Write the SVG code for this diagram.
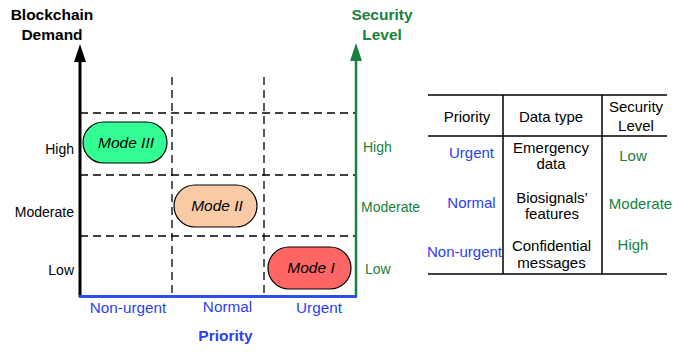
<svg xmlns="http://www.w3.org/2000/svg" width="691" height="352" viewBox="0 0 691 352">
<defs>
<style>
text{font-family:"Liberation Sans",Arial,sans-serif;font-size:15px;}
.blk{fill:#000;}
.blu{fill:#2B3FF2;}
.grn{fill:#17813D;}
.ttl{font-size:15.5px;font-weight:bold;}
.side{font-size:14px;}
.ax{font-size:15.3px;}
.mode{font-size:15.5px;font-style:italic;}
.dash{stroke:#000;stroke-width:1.3;stroke-dasharray:8,5;fill:none;}
.tl{stroke:#000;stroke-width:1.5;}
.mid{text-anchor:middle;}
.end{text-anchor:end;}
</style>
</defs>
<rect width="691" height="352" fill="#fff"/>
<g id="grid">
<line class="dash" x1="172" y1="77" x2="172" y2="296"/>
<line class="dash" x1="264" y1="77" x2="264" y2="296"/>
<line class="dash" x1="80" y1="113" x2="356" y2="113"/>
<line class="dash" x1="80" y1="175" x2="356" y2="175"/>
<line class="dash" x1="80" y1="236" x2="356" y2="236"/>
</g>
<g id="connectors">
<line x1="80" y1="60" x2="80" y2="297" stroke="#000" stroke-width="3"/>
<polygon points="80,44 74,62 86,62" fill="#000"/>
<line x1="356" y1="60" x2="356" y2="297" stroke="#17813D" stroke-width="2.5"/>
<polygon points="356,43 350,61 362,61" fill="#17813D"/>
<line x1="79" y1="296.5" x2="357" y2="296.5" stroke="#2B4FE8" stroke-width="3"/>
</g>
<g id="axis-labels">
<text class="ttl blk mid" x="52" y="20">Blockchain</text>
<text class="ttl blk mid" x="52" y="40">Demand</text>
<text class="ttl grn mid" x="382" y="20">Security</text>
<text class="ttl grn mid" x="382" y="40">Level</text>
<text class="side blk end" x="74" y="154">High</text>
<text class="side blk end" x="74" y="217">Moderate</text>
<text class="side blk end" x="74" y="275">Low</text>
<text class="side grn" x="363" y="152">High</text>
<text class="side grn" x="361" y="212">Moderate</text>
<text class="side grn" x="365" y="274">Low</text>
<text class="ax blu mid" x="128" y="313">Non-urgent</text>
<text class="ax blu mid" x="227.5" y="312">Normal</text>
<text class="ax blu mid" x="319" y="313">Urgent</text>
<text class="ttl blu mid" x="225.5" y="341">Priority</text>
</g>
<g id="mode3">
<rect x="83" y="122" width="84" height="41" rx="20.5" fill="#33FD95" stroke="#000" stroke-width="1.2"/>
<text class="mode blk mid" x="126" y="148">Mode III</text>
</g>
<g id="mode2">
<rect x="174" y="185" width="83" height="42" rx="21" fill="#F8CBA6" stroke="#000" stroke-width="1.2"/>
<text class="mode blk mid" x="217" y="211">Mode II</text>
</g>
<g id="mode1">
<rect x="268" y="247" width="83" height="42" rx="21" fill="#FF6666" stroke="#000" stroke-width="1.2"/>
<text class="mode blk mid" x="311" y="273">Mode I</text>
</g>
<g id="table">
<line class="tl" x1="428" y1="95" x2="667" y2="95"/>
<line class="tl" x1="428" y1="136" x2="667" y2="136"/>
<line class="tl" x1="428" y1="274" x2="667" y2="274"/>
<line class="tl" x1="503" y1="95" x2="503" y2="274"/>
<line class="tl" x1="602" y1="95" x2="602" y2="274"/>
<text class="blk mid" x="467" y="122">Priority</text>
<text class="blk mid" x="551" y="122">Data type</text>
<text class="blk mid" x="636" y="112">Security</text>
<text class="blk mid" x="636" y="131">Level</text>
<text class="blu mid" x="471.5" y="158">Urgent</text>
<text class="blk mid" x="551" y="153">Emergency</text>
<text class="blk mid" x="551" y="169">data</text>
<text class="grn mid" x="633" y="161">Low</text>
<text class="blu mid" x="471.5" y="208">Normal</text>
<text class="blk mid" x="552" y="203">Biosignals’</text>
<text class="blk mid" x="552" y="219">features</text>
<text class="grn mid" x="640.5" y="209">Moderate</text>
<text class="blu mid" x="464.5" y="257">Non-urgent</text>
<text class="blk mid" x="551.5" y="251">Confidential</text>
<text class="blk mid" x="551.5" y="268">messages</text>
<text class="grn mid" x="633" y="250">High</text>
</g>
</svg>
